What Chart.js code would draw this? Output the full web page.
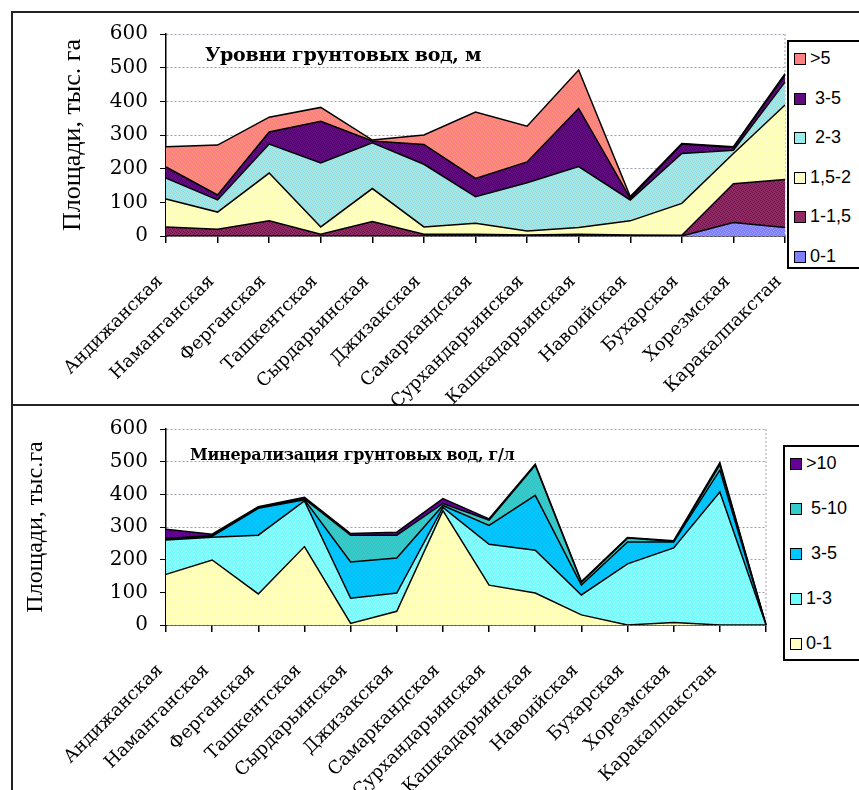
<!DOCTYPE html>
<html>
<head>
<meta charset="utf-8">
<script src="https://cdn.jsdelivr.net/npm/chart.js@4.4.0/dist/chart.umd.min.js"></script>
<style>
html, body { margin: 0; padding: 0; background: #fff; overflow: hidden; width: 859px; height: 790px; }
.panel { position: absolute; left: 11px; width: 900px; border: 2px solid #222; box-sizing: border-box; }
#p1 { top: 11px; height: 395px; }
#p2 { top: 404px; height: 400px; }
canvas { position: absolute; left: 0; }
#c1 { top: 0; }
#c2 { top: 405px; }
.ttl { position: absolute; font-family: "DejaVu Serif", serif; font-weight: bold; white-space: nowrap; color: #000; }
.legend { position: absolute; border: 2px solid #000; background: #fff; width: 120px; box-sizing: border-box;
          font-family: "Liberation Sans", Arial, sans-serif; font-size: 18px; }
.item { position: absolute; left: 5px; white-space: pre; line-height: 20px; }
.item i { display: inline-block; width: 10px; height: 10px; border: 1px solid #000; margin-right: 4px; vertical-align: -1px; }
</style>
</head>
<body>
<div class="panel" id="p1"></div>
<div class="panel" id="p2"></div>
<canvas id="c1" width="859" height="405"></canvas>
<canvas id="c2" width="859" height="385"></canvas>
<div class="ttl" style="left:205px;top:43px;font-size:19px;letter-spacing:-0.3px;">Уровни грунтовых вод, м</div>
<div class="ttl" style="left:190px;top:445px;font-size:16px;letter-spacing:-0.3px;">Минерализация грунтовых вод, г/л</div>
<div class="legend" id="leg1" style="left:787px;top:40px;height:229px;"></div>
<div class="legend" id="leg2" style="left:783px;top:445px;height:216px;"></div>
<script>
// области
const regions = ['Андижанская', 'Наманганская', 'Ферганская', 'Ташкентская', 'Сырдарьинская', 'Джизакская',
  'Самаркандская', 'Сурхандарьинская', 'Кашкадарьинская', 'Навоийская', 'Бухарская', 'Хорезмская', 'Каракалпакстан'];
const regions2 = regions.concat(['']);

// Уровни грунтовых вод, м (тыс. га)
const levelNames = ['0-1', '1-1,5', '1,5-2', ' 2-3', ' 3-5', '>5'];
const lvl0_1   = [0, 0, 0, 0, 0, 0, 0, 0, 0, 0, 0, 40, 25];
const lvl1_15  = [27, 20, 45, 5, 43, 5, 5, 3, 5, 3, 2, 115, 143];
const lvl15_2  = [83, 51, 142, 22, 98, 22, 33, 12, 20, 42, 95, 90, 221];
const lvl2_3   = [62, 36, 86, 190, 136, 186, 79, 143, 181, 62, 148, 10, 68];
const lvl3_5   = [33, 15, 36, 124, 5, 59, 54, 62, 173, 5, 28, 8, 21];
const lvlOver5 = [60, 148, 44, 41, 3, 28, 197, 106, 114, 5, 2, 2, 4];

// Минерализация грунтовых вод, г/л (тыс. га)
const minNames = ['0-1', '1-3', ' 3-5', ' 5-10', '>10'];
const min0_1    = [155, 199, 95, 240, 5, 42, 350, 122, 98, 31, 0, 8, 0, 0];
const min1_3    = [105, 70, 180, 140, 77, 56, 10, 125, 131, 61, 187, 228, 407, 0];
const min3_5    = [3, 3, 82, 3, 111, 107, 6, 58, 168, 30, 67, 18, 67, 0];
const min5_10   = [2, 2, 3, 3, 82, 70, 6, 16, 92, 8, 12, 2, 16, 0];
const minOver10 = [28, 4, 2, 5, 5, 9, 15, 4, 3, 3, 2, 2, 7, 0];

const yTicks = [0, 100, 200, 300, 400, 500, 600];

// цвета: основной + точки растра
const lvlColors = [['#8080ff', '#a0a0ff'], ['#902a62', '#6a1048'], ['#ffffc8', '#ffff99'],
  ['#98ecec', '#b8c8c8'], ['#620a80', '#4a0066'], ['#ff8080', '#f49a74']];
const minColors = [['#ffffc4', '#ffff99'], ['#6ffcff', '#b0ffff'], ['#00c8ff', '#10b8f0'],
  ['#33cccc', '#44bbbb'], ['#660099', '#550080']];

// маленький растр как в Excel
const dither = (c) => {
  const cv = document.createElement('canvas');
  cv.width = 4; cv.height = 4;
  const g = cv.getContext('2d');
  g.fillStyle = c[0]; g.fillRect(0, 0, 4, 4);
  g.fillStyle = c[1];
  [[0, 0], [2, 1], [1, 2], [3, 3]].forEach(p => g.fillRect(p[0], p[1], 1, 1));
  return g.createPattern(cv, 'repeat');
};

// пунктирная рамка области построения
const frame = {
  id: 'frame',
  beforeDatasetsDraw(chart) {
    const {ctx, chartArea: a} = chart;
    ctx.save();
    ctx.strokeStyle = '#a49cb0';
    ctx.lineWidth = 1;
    ctx.setLineDash([2, 2]);
    ctx.beginPath();
    ctx.moveTo(a.right, a.top);
    ctx.lineTo(a.right, a.bottom);
    ctx.stroke();
    ctx.restore();
  }
};

const buildChart = (id, labels, names, series, colors, box) => {
  return new Chart(document.getElementById(id), {
    type: 'line',
    data: {
      labels: labels,
      datasets: series.map((d, i) => ({
        label: names[i],
        data: d,
        fill: i === 0 ? 'origin' : '-1',
        backgroundColor: dither(colors[i]),
        borderColor: '#000',
        borderWidth: 1.5,
        pointRadius: 0,
        tension: 0
      }))
    },
    options: {
      responsive: false,
      animation: false,
      layout: { padding: { left: 0, top: box.top, right: box.right, bottom: 0 } },
      plugins: { legend: { display: false }, tooltip: { enabled: false } },
      scales: {
        x: {
          grid: { drawOnChartArea: false, color: '#000', tickLength: 7, lineWidth: 1.5 },
          border: { color: '#000', width: 1.5 },
          ticks: {
            autoSkip: false, maxRotation: 45, minRotation: 45, padding: 28, labelOffset: -6,
            color: '#000', font: { family: 'DejaVu Serif', size: 18 }
          },
          afterFit: s => { s.height = box.xh; }
        },
        y: {
          stacked: true, min: 0, max: 600,
          afterBuildTicks: s => { s.ticks = yTicks.map(v => ({ value: v })); },
          ticks: { padding: 12, color: '#000', font: { family: 'DejaVu Serif', size: 20 } },
          grid: { color: '#a49cb0', tickColor: '#000', tickLength: 6 },
          border: { color: '#000', width: 1.5, dash: [2, 2] },
          title: {
            display: true, text: box.ytitle, color: '#000',
            font: { family: 'Liberation Serif', size: box.ytSize }, padding: { top: box.ytPad, bottom: 0 }
          },
          afterFit: s => { s.width = 166; }
        }
      }
    },
    plugins: [frame]
  });
};

buildChart('c1', regions, levelNames, [lvl0_1, lvl1_15, lvl15_2, lvl2_3, lvl3_5, lvlOver5], lvlColors,
  { top: 34, right: 74, xh: 169, ytitle: 'Площади, тыс. га', ytSize: 26, ytPad: 58 });
buildChart('c2', regions2, minNames, [min0_1, min1_3, min3_5, min5_10, minOver10], minColors,
  { top: 24, right: 93, xh: 165, ytitle: 'Площади, тыс.га', ytSize: 24, ytPad: 21 });

// легенды (сверху вниз — в обратном порядке рядов)
const fillLegend = (id, names, colors, startY, step) => {
  const el = document.getElementById(id);
  names.slice().reverse().forEach((n, k) => {
    const c = colors[names.length - 1 - k][0];
    const d = document.createElement('div');
    d.className = 'item';
    d.style.top = (startY + k * step) + 'px';
    d.innerHTML = '<i style="background:' + c + '"></i>';
    d.appendChild(document.createTextNode(n));
    el.appendChild(d);
  });
};
fillLegend('leg1', levelNames, lvlColors, 6, 39.5);
fillLegend('leg2', minNames, minColors, 6, 45);
</script>
</body>
</html>
